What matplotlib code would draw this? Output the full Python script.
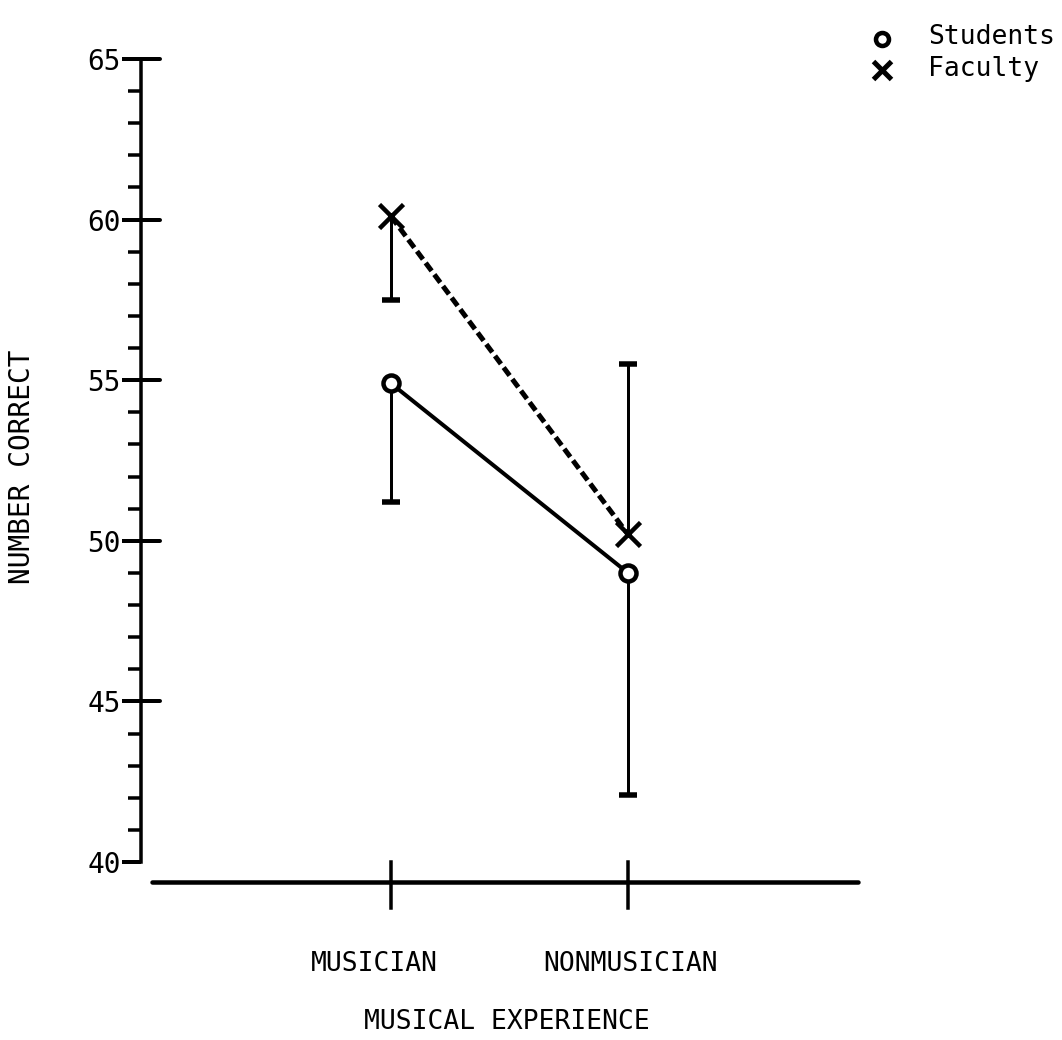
import matplotlib
matplotlib.use("Agg")
import matplotlib.pyplot as plt
import numpy as np

# ---- data ----
categories = ["MUSICIAN", "NONMUSICIAN"]
students = [54.9, 49.0]
faculty = [60.1, 50.2]
students_err_end = [51.2, 42.1]
faculty_err_end = [57.5, 55.5]
yticks = [40, 45, 50, 55, 60, 65]
legend_labels = ["Students", "Faculty"]

plt.rcParams["font.family"] = ["DejaVu Sans Mono"]
DPI = 100
W, H = 1062, 1040
fig = plt.figure(figsize=(W / DPI, H / DPI), dpi=DPI)
fig.patch.set_facecolor("white")

def px(v):
    return v * 72.0 / DPI

ax_l, ax_r, ax_t, ax_b = 141, 858, 59, 862
ax = fig.add_axes([ax_l / W, 1 - ax_b / H, (ax_r - ax_l) / W, (ax_b - ax_t) / H])
x = np.arange(1, len(categories) + 1)
ax.set_xlim(1 - (391 - ax_l) / 237.0, 2 + (ax_r - 628) / 237.0)
ax.set_ylim(40, 65)

for s in ["top", "right", "bottom"]:
    ax.spines[s].set_visible(False)
ax.spines["left"].set_linewidth(px(3.5))

ax.set_yticks(yticks)
ax.set_yticklabels([str(t) for t in yticks], fontsize=20)
ax.set_yticks([v for v in range(40, 66) if v % 5 != 0], minor=True)
ax.tick_params(axis="y", which="major", direction="out", length=px(19), width=px(4), pad=1)
ax.tick_params(axis="y", which="minor", direction="out", length=px(13), width=px(3.5))
ax.set_xticks([])
ax.patch.set_alpha(0)

# right-side stubs of major ticks (except bottom)
ytr = ax.get_yaxis_transform()
stub = 19.0 / (ax_r - ax_l)
for t in yticks[1:]:
    ax.plot([0, stub], [t, t], color="black", lw=px(4), transform=ytr, clip_on=False,
            solid_capstyle="round")

# x axis line and category ticks
xaxis_y = 39.38
ax.plot([ax.get_xlim()[0] + 11 / 237.0, ax.get_xlim()[1]], [xaxis_y, xaxis_y],
        color="black", lw=px(4.5), clip_on=False, solid_capstyle="round")
for xi in x:
    ax.plot([xi, xi], [40.0, 38.57], color="black", lw=px(3.5), clip_on=False)

# category labels
offsets = [-0.07, 0.01]
for xi, lab, off in zip(x, categories, offsets):
    ax.text(xi + off, 40 - (964 - ax_b) / 32.12, lab, ha="center", va="center",
            fontsize=19, clip_on=False)

ax.text(1 + (507 - 391) / 237.0, 40 - (1022 - ax_b) / 32.12, "MUSICAL EXPERIENCE",
        ha="center", va="center", fontsize=19, clip_on=False)
fig.text(22 / W, 1 - 467 / H, "NUMBER CORRECT", rotation=90, ha="center", va="center",
         fontsize=20)

# error bars (one-sided)
cap_w = 18
for series, ends in [(students, students_err_end), (faculty, faculty_err_end)]:
    ax.vlines(x, series, ends, color="black", lw=px(3))
    ax.plot(x, ends, linestyle="none", marker="_", markersize=px(cap_w),
            markeredgewidth=px(5.5), color="black")

# lines
ax.plot(x, students, color="black", lw=px(4), solid_capstyle="round", zorder=3)
ax.plot(x, faculty, color="black", lw=px(5), dashes=(2.0, 0.9), dash_capstyle="butt",
        zorder=3)

# markers
ax.plot(x, students, linestyle="none", marker="o", markersize=px(16), markerfacecolor="white",
        markeredgecolor="black", markeredgewidth=px(4.5), zorder=4)
ax.plot(x, faculty, linestyle="none", marker="x", markersize=px(24),
        markeredgecolor="black", markeredgewidth=px(4.5), zorder=4)

# legend
fig.text(928 / W, 1 - 37 / H, legend_labels[0], fontsize=19, ha="left", va="center")
fig.text(928 / W, 1 - 69 / H, legend_labels[1], fontsize=19, ha="left", va="center")
fig.lines.append(matplotlib.lines.Line2D([882 / W], [1 - 39 / H], transform=fig.transFigure,
                 marker="o", markersize=px(13), markerfacecolor="white",
                 markeredgecolor="black", markeredgewidth=px(4.5), linestyle="none"))
fig.lines.append(matplotlib.lines.Line2D([882 / W], [1 - 70 / H], transform=fig.transFigure,
                 marker="x", markersize=px(18), markeredgecolor="black",
                 markeredgewidth=px(5), linestyle="none"))

fig.savefig("out.png", dpi=DPI, facecolor="white")
